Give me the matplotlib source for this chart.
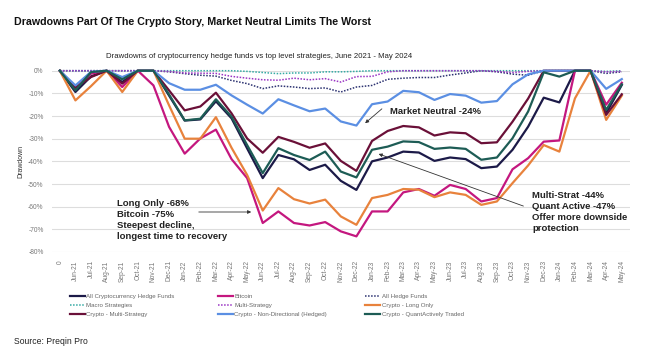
import matplotlib
matplotlib.use('Agg')
import matplotlib.pyplot as plt
from matplotlib.patches import FancyArrowPatch

labels = ['0', 'Jun-21', 'Jul-21', 'Aug-21', 'Sep-21', 'Oct-21', 'Nov-21', 'Dec-21',
          'Jan-22', 'Feb-22', 'Mar-22', 'Apr-22', 'May-22', 'Jun-22', 'Jul-22', 'Aug-22',
          'Sep-22', 'Oct-22', 'Nov-22', 'Dec-22', 'Jan-23', 'Feb-23', 'Mar-23', 'Apr-23',
          'May-23', 'Jun-23', 'Jul-23', 'Aug-23', 'Sep-23', 'Oct-23', 'Nov-23', 'Dec-23',
          'Jan-24', 'Feb-24', 'Mar-24', 'Apr-24', 'May-24']

all_crypto = [0, -9.4, -2.5, 0, -5, 0, 0, -11, -22, -21.5, -13.5, -21, -34.3, -47.4, -37.2,
              -39.1, -43.8, -41.5, -48.6, -52.6, -40, -38.3, -35.7, -36.1, -39.8, -38.3, -39,
              -43, -42.3, -34.9, -24.7, -11.9, -14, 0, 0, -18.8, -6.3]
bitcoin = [0, -7.2, -1.3, 0, -7.2, 0, -6.5, -24.8, -36.6, -29.9, -26, -39, -47.4, -67.2, -62.1,
           -67.2, -68.3, -66.8, -70.9, -73.1, -62.1, -62.1, -53.7, -52.2, -55.2, -50.4, -52.2,
           -57.7, -56.2, -43.5, -38.6, -31.3, -30.8, 0, 0, -15, -5.3]
all_hf = [0, 0, 0, 0, 0, 0, 0, -0.5, -1.3, -2, -2.4, -4.3, -5.7, -7.9, -6.7, -7.2, -7.9, -7.6,
          -9.4, -7.2, -6.5, -3.8, -3.3, -3, -3, -1.9, -1, 0, -0.5, -1.5, -2, 0, 0, 0, 0, -1.2, -0.5]
macro = [0, 0, 0, 0, 0, 0, 0, 0, 0, 0, 0, 0, -0.3, -0.8, -1.3, -1, -1, -0.5, -0.5, -0.3, 0, 0,
         0, 0, 0, 0, 0, 0, 0, 0, 0, 0, 0, 0, 0, -0.3, 0]
multi_strategy = [0, 0, 0, 0, 0, 0, 0, -0.3, -1, -1.1, -1.2, -2.5, -3.3, -4, -4.2, -3.3, -4, -3.5,
                  -5, -2.6, -2.5, -0.5, 0, 0, 0, 0, 0, 0, -0.3, -0.8, -0.3, 0, 0, 0, 0, -0.5, -0.3]
long_only = [0, -13.1, -6.8, 0, -9.4, 0, 0, -15.3, -30, -30, -20.5, -34, -46, -61.7, -51.8, -56.7,
             -58.6, -56.9, -64.3, -68, -56.2, -54.8, -52.2, -52.5, -55.8, -53.7, -54.8, -59.2,
             -57.7, -49.6, -41.8, -32.8, -35.7, -12.2, 0, -21.7, -11]
crypto_multi = [0, -7.6, -2.8, 0, -5.7, 0, 0, -8.7, -17.5, -15.8, -9.7, -18.8, -29.9, -36.2, -29.2,
                -31.4, -34, -32.1, -39.8, -44.2, -31, -26.6, -24.4, -25, -28.6, -27.2, -27.6, -32,
                -31.6, -22.5, -12.3, 0, 0, 0, 0, -19.5, -10.4]
non_directional = [0, -6.5, -0.5, 0, -2.8, 0, 0, -5.5, -8.4, -8.4, -6.2, -10.9, -15, -18.9, -12.6,
                   -15.3, -17.9, -16.7, -22.4, -24.2, -14.8, -13.6, -8.9, -9.5, -12.9, -10.3, -11,
                   -14.1, -13.4, -6, -1.6, 0, 0, 0, 0, -8, -3.7]
quant = [0, -8.7, -0.6, 0, -3.8, 0, 0, -10.5, -21.9, -21.2, -12.6, -20.3, -32.8, -45.2, -34.2, -37.2,
         -39.4, -35.7, -44.5, -47.1, -34.9, -33.5, -31.2, -31.5, -34.5, -33.9, -34.5, -39.3, -38.3,
         -29.8, -18, -0.7, -2.6, 0, 0, -17.3, -6]

series = [
    ('All Cryptocurrency Hedge Funds', all_crypto, '#1c1a48', '-'),
    ('Bitcoin', bitcoin, '#c4177f', '-'),
    ('All Hedge Funds', all_hf, '#2b3170', ':'),
    ('Macro Strategies', macro, '#35aaa4', ':'),
    ('Multi-Strategy', multi_strategy, '#9a34c4', ':'),
    ('Crypto - Long Only', long_only, '#e8823c', '-'),
    ('Crypto - Multi-Strategy', crypto_multi, '#6a1038', '-'),
    ('Crypto - Non-Directional (Hedged)', non_directional, '#5b8fe3', '-'),
    ('Crypto - QuantActively Traded', quant, '#1d5c55', '-'),
]

plt.rcParams['font.family'] = ['Liberation Sans', 'DejaVu Sans']

W, H = 655, 359
fig = plt.figure(figsize=(W / 100, H / 100), dpi=100)
ax = fig.add_axes([52 / W, 1 - 252 / H, (629.6 - 52) / W, (252 - 70.7) / H])

x = list(range(len(labels)))
handles = {}
for name, vals, col, ls in series:
    if ls == '-':
        h, = ax.plot(x, vals, color=col, lw=1.6, clip_on=False)
    else:
        h, = ax.plot(x, vals, color=col, lw=1.1, ls=(0, (1, 1)), clip_on=False)
    handles[name] = h

ax.set_xlim(-0.5, len(labels) - 0.5)
ax.set_ylim(-80, 0)
ax.set_yticks(range(-80, 1, 10))
ax.set_yticklabels(['%d%%' % v for v in range(-80, 1, 10)])
ax.set_xticks(x)
ax.set_xticklabels(labels, rotation=90)
ax.tick_params(axis='both', length=0, labelsize=4.8, colors='#777777', pad=6)
ax.yaxis.grid(True, color='#dddddd', lw=0.8)
ax.set_axisbelow(True)
for s in ax.spines.values():
    s.set_visible(False)
ax.set_ylabel('Drawdown', fontsize=5, color='#333333', labelpad=3)

# legend: three columns placed by hand
cols = [(['All Cryptocurrency Hedge Funds', 'Macro Strategies', 'Crypto - Multi-Strategy'], 70),
        (['Bitcoin', 'Multi-Strategy', 'Crypto - Non-Directional (Hedged)'], 218),
        (['All Hedge Funds', 'Crypto - Long Only', 'Crypto - QuantActively Traded'], 365)]
for names, xpos in cols:
    fig.legend([handles[n] for n in names], names, loc='upper left',
               bbox_to_anchor=(xpos / W, 1 - 294 / H), frameon=False, fontsize=4.4,
               labelcolor='#666666', handlelength=2.4, handletextpad=0.3,
               labelspacing=0.6, borderaxespad=0, borderpad=0)

fig.text(14 / W, 1 - 22 / H, 'Drawdowns Part Of The Crypto Story, Market Neutral Limits The Worst',
         fontsize=7.7, fontweight='bold', va='center', ha='left', color='#111111')
fig.text(259 / W, 1 - 57 / H,
         'Drawdowns of cryptocurrency hedge funds vs top level strategies, June 2021 - May 2024',
         fontsize=5.6, va='center', ha='center', color='#222222')
fig.text(14 / W, 1 - 341 / H, 'Source: Preqin Pro', fontsize=6.2, va='center', ha='left',
         color='#222222')

bold = dict(fontsize=6.8, fontweight='bold', color='#222222', va='center', ha='left')
fig.text(390 / W, 1 - 111 / H, 'Market Neutral -24%', **bold)
fig.text(117 / W, 1 - 220 / H,
         'Long Only -68%\nBitcoin -75%\nSteepest decline,\nlongest time to recovery',
         linespacing=1.25, **bold)
fig.text(532 / W, 1 - 212 / H,
         'Multi-Strat -44%\nQuant Active -47%\nOffer more downside\nprotection',
         linespacing=1.25, **bold)

arrow = dict(arrowstyle='-|>', color='#333333', lw=0.6, mutation_scale=5, transform=fig.transFigure)
fig.patches.append(FancyArrowPatch((384 / W, 1 - 107 / H), (363 / W, 1 - 125 / H), **arrow))
fig.patches.append(FancyArrowPatch((196 / W, 1 - 212 / H), (254 / W, 1 - 212 / H), **arrow))
fig.patches.append(FancyArrowPatch((526 / W, 1 - 207 / H), (376 / W, 1 - 153 / H), **arrow))

fig.savefig('out.png', dpi=100)
